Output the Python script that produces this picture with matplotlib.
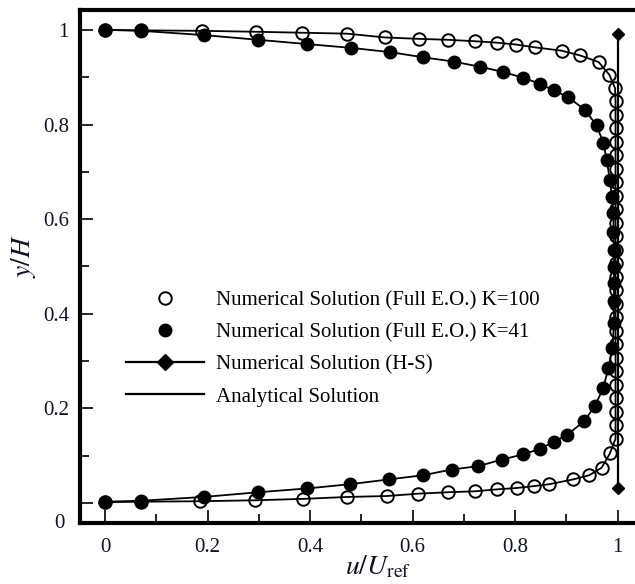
import matplotlib
matplotlib.use('Agg')
import matplotlib.pyplot as plt
from matplotlib.ticker import MultipleLocator, FixedLocator

# ---- data ----
# K = 100 (open circles)
k100_x = [0.0, 0.07, 0.189, 0.294, 0.384, 0.472, 0.546, 0.613, 0.670, 0.722,
          0.764, 0.802, 0.839, 0.891, 0.927, 0.963, 0.984,
          0.995, 0.996, 0.996, 0.996, 0.996, 0.996, 0.996, 0.996, 0.996,
          0.996, 0.996, 0.996, 0.996, 0.996, 0.996, 0.996, 0.996, 0.996,
          0.996, 0.996, 0.996, 0.996, 0.996, 0.996, 0.996, 0.996, 0.996,
          0.985, 0.969, 0.945, 0.913, 0.867, 0.837, 0.803, 0.764, 0.722,
          0.670, 0.611, 0.550, 0.472, 0.387, 0.293, 0.185, 0.07, 0.0]
k100_y = [1.0, 0.999, 0.998, 0.996, 0.994, 0.992, 0.984, 0.981, 0.979, 0.976,
          0.973, 0.969, 0.963, 0.956, 0.946, 0.932, 0.905,
          0.877, 0.849, 0.820, 0.792, 0.763, 0.735, 0.706, 0.678, 0.649,
          0.621, 0.592, 0.564, 0.535, 0.507, 0.478, 0.450, 0.421, 0.393,
          0.364, 0.336, 0.307, 0.279, 0.250, 0.222, 0.193, 0.165, 0.136,
          0.105, 0.075, 0.059, 0.050, 0.040, 0.036, 0.032, 0.029, 0.025,
          0.023, 0.020, 0.015, 0.013, 0.009, 0.006, 0.004, 0.003, 0.002]

# K = 41 (filled circles)
k41_x = [0.0, 0.07, 0.192, 0.299, 0.394, 0.480, 0.556, 0.621, 0.680, 0.732,
         0.777, 0.815, 0.849, 0.875, 0.904, 0.937, 0.959, 0.972, 0.979,
         0.985, 0.989, 0.992, 0.992, 0.993, 0.993, 0.993, 0.993, 0.993,
         0.990, 0.982, 0.972, 0.956, 0.935, 0.901, 0.875, 0.849, 0.816,
         0.774, 0.728, 0.676, 0.621, 0.553, 0.478, 0.394, 0.299, 0.192,
         0.07, 0.0]
k41_y = [1.0, 0.998, 0.989, 0.979, 0.970, 0.962, 0.953, 0.942, 0.933, 0.922,
         0.911, 0.899, 0.886, 0.872, 0.858, 0.830, 0.798, 0.762, 0.724,
         0.682, 0.647, 0.612, 0.573, 0.535, 0.498, 0.465, 0.428, 0.380,
         0.327, 0.285, 0.243, 0.206, 0.173, 0.144, 0.129, 0.115, 0.103,
         0.092, 0.078, 0.071, 0.059, 0.050, 0.040, 0.031, 0.023, 0.013,
         0.005, 0.003]

# Helmholtz-Smoluchowski (diamonds)
hs_x = [1.0, 1.0]
hs_y = [0.031, 0.992]

x_ticks = [0, 0.2, 0.4, 0.6, 0.8, 1.0]
x_tick_labels = ['0', '0.2', '0.4', '0.6', '0.8', '1']
y_ticks = [0, 0.2, 0.4, 0.6, 0.8, 1.0]
y_tick_labels = ['', '0.2', '0.4', '0.6', '0.8', '1']

labels = ['Numerical Solution (Full E.O.) K=100',
          'Numerical Solution (Full E.O.) K=41',
          'Numerical Solution (H-S)',
          'Analytical Solution']

plt.rcParams['font.family'] = ['Liberation Serif', 'DejaVu Serif']
plt.rcParams['mathtext.fontset'] = 'stix'

fig = plt.figure(figsize=(6.35, 5.84), dpi=100)
ax = fig.add_axes([80/635, 1-523/584, 555/635, 513/584])

txt = '#111122'
# analytical lines (through the profiles)
ax.plot(k100_x, k100_y, '-', color='black', lw=1.3, zorder=2)
ax.plot(k41_x, k41_y, '-', color='black', lw=1.3, zorder=2)
# H-S
ax.plot(hs_x, hs_y, '-', color='black', lw=1.6, marker='D', ms=6.5, zorder=3)
# numerical markers
ax.plot(k100_x, k100_y, 'o', ls='none', mfc='none', mec='black', mew=1.4,
        ms=9, zorder=4)
ax.plot(k41_x, k41_y, 'o', ls='none', mfc='black', mec='black', ms=9, zorder=5)

ax.set_xlim(-0.049, 1.034)
ax.set_ylim(-0.042, 1.042)

ax.xaxis.set_major_locator(FixedLocator(x_ticks))
ax.set_xticklabels(x_tick_labels)
ax.xaxis.set_minor_locator(MultipleLocator(0.1))
ax.yaxis.set_major_locator(FixedLocator(y_ticks))
ax.set_yticklabels(y_tick_labels)
ax.yaxis.set_minor_locator(MultipleLocator(0.1))

ax.tick_params(which='major', direction='in', length=9.5, width=1.2,
               labelsize=15, labelcolor=txt, pad=8)
ax.tick_params(axis='x', which='major', pad=11)
ax.tick_params(which='minor', direction='in', length=6.5, width=1.2)
ax.tick_params(top=False, right=False, which='both')

for s in ['left', 'bottom', 'top']:
    ax.spines[s].set_linewidth(3)
ax.spines['right'].set_visible(False)

# lone "0" label placed at the bottom of the y axis
ax.text(-0.028, 0.0, '0', transform=ax.transAxes, ha='right', va='center',
        fontsize=15, color=txt)

ax.set_xlabel(r'$u/U_{\mathrm{ref}}$', fontsize=20, color=txt)
ax.set_ylabel(r'$y/H$', fontsize=20, color=txt)
ax.xaxis.set_label_coords(0.537, -0.06)
ax.yaxis.set_label_coords(-0.075, 0.52)

# legend
h1, = ax.plot([], [], 'o', mfc='none', mec='black', mew=1.4, ms=9)
h2, = ax.plot([], [], 'o', mfc='black', mec='black', ms=9)
h3, = ax.plot([], [], '-', color='black', lw=1.6, marker='D', ms=8)
h4, = ax.plot([], [], '-', color='black', lw=1.6)
ax.legend([h1, h2, h3, h4], labels, loc='upper left',
          bbox_to_anchor=(107/635, 1-272/584), bbox_transform=fig.transFigure,
          frameon=False, fontsize=15, handlelength=3.75, handletextpad=0.58,
          labelspacing=0.6, borderpad=0.4, numpoints=1)

fig.savefig('out.png', dpi=100)
